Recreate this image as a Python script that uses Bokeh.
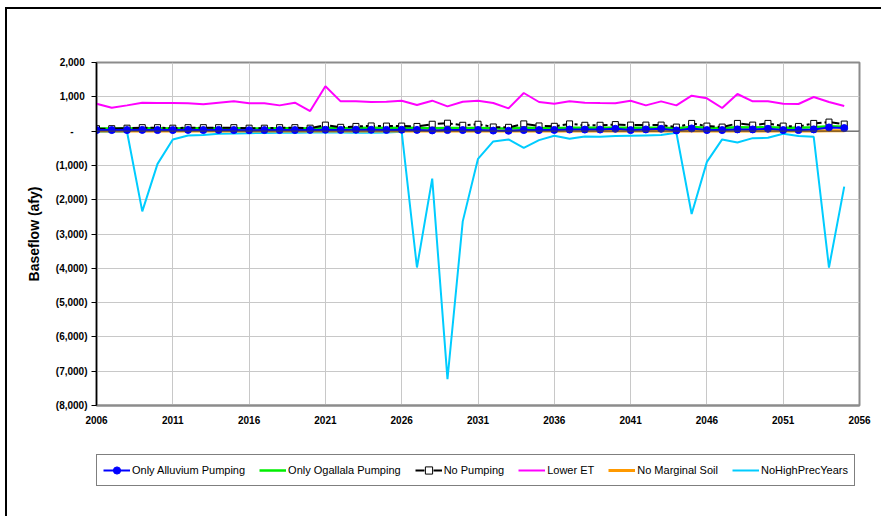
from bokeh.plotting import figure
from bokeh.layouts import column
from bokeh.models import (Range1d, FixedTicker, Legend, LegendItem, Span)
from bokeh.embed import file_html
from bokeh.resources import INLINE

years = list(range(2006, 2056))

only_alluvium = [30, 30, 30, 35, 30, 30, 35, 30, 35, 30, 25, 30, 30, 30, 35, 40, 35, 40, 40, 35,
                 40, 35, 20, 30, 30, 30, 15, 10, 30, 30, 35, 45, 45, 45, 68, 29, 49, 68, 19, 78,
                 29, 29, 49, 49, 68, 29, 29, 49, 107, 88]
only_ogallala = [75, 75, 75, 80, 80, 75, 80, 80, 80, 80, 75, 75, 80, 80, 75, 95, 85, 90, 95, 90,
                 95, 90, 85, 90, 90, 90, 80, 75, 95, 90, 85, 95, 95, 95, 100, 95, 95, 100, 80, 120,
                 100, 90, 110, 105, 110, 95, 95, 115, 140, 125]
no_pumping = [70, 70, 85, 100, 100, 85, 100, 100, 100, 100, 85, 85, 100, 100, 85, 175, 110, 136, 150, 146,
              146, 136, 200, 230, 170, 200, 120, 110, 210, 150, 140, 210, 170, 170, 190, 175, 175, 175, 117, 224,
              146, 117, 224, 175, 224, 146, 136, 224, 263, 205]
lower_et = [798, 681, 750, 828, 819, 819, 809, 780, 828, 867, 809, 809, 750, 828, 585, 1306, 867, 867, 850, 858,
            887, 760, 887, 721, 858, 887, 819, 663, 1111, 848, 799, 867, 828, 819, 815, 887, 750, 867, 750, 1033,
            955, 673, 1082, 867, 867, 799, 790, 994, 848, 731]
no_marginal_soil = [5, 5, 5, 0, 5, 5, 0, 5, 5, 5, 0, 5, 5, 5, 0, 10, 5, 5, 5, 5,
                    5, 5, 0, 0, 5, 5, 0, 0, 5, 5, 5, 5, 5, 5, 5, 5, 5, 5, 0, 10,
                    5, 0, 5, 5, 5, 0, 0, 5, 10, 10]
no_high_prec = [-20, -20, -20, -2339, -956, -243, -126, -117, -78, -70, -60, -55, -50, -45, -40, -40, -40, -45, -49, -39,
                -20, -3977, -1384, -7232, -2632, -809, -302, -243, -487, -263, -136, -224, -156, -166, -146, -136, -127, -117, -49, -2417,
                -897, -243, -331, -205, -195, -78, -146, -166, -3977, -1618]

series_names = ["Only Alluvium Pumping", "Only Ogallala Pumping", "No Pumping",
                "Lower ET", "No Marginal Soil", "NoHighPrecYears"]
series_values = [only_alluvium, only_ogallala, no_pumping, lower_et, no_marginal_soil, no_high_prec]

x_ticks = [2006, 2011, 2016, 2021, 2026, 2031, 2036, 2041, 2046, 2051, 2056]
y_ticks = [2000, 1000, 0, -1000, -2000, -3000, -4000, -5000, -6000, -7000, -8000]
nb = "\u00a0"
y_labels = ["2,000" + nb, "1,000" + nb, "-" + nb * 5, "(1,000)", "(2,000)", "(3,000)", "(4,000)",
            "(5,000)", "(6,000)", "(7,000)", "(8,000)"]

FONT = "Liberation Sans"

p = figure(width=874, height=431, output_backend="svg", toolbar_location=None,
           x_range=Range1d(2006, 2056), y_range=Range1d(-8000, 2000),
           min_border_left=89, min_border_top=53, min_border_right=22, min_border_bottom=35)

p.outline_line_color = "#8c8c8c"
p.outline_line_width = 2

# grids
p.xgrid.ticker = FixedTicker(ticks=x_ticks)
p.ygrid.ticker = FixedTicker(ticks=y_ticks)
p.xgrid.grid_line_color = "#c8c8c8"
p.ygrid.grid_line_color = "#c8c8c8"
p.xgrid.grid_line_width = 1
p.ygrid.grid_line_width = 1

# x axis
p.xaxis.ticker = FixedTicker(ticks=x_ticks)
p.xaxis.axis_line_color = "#8c8c8c"
p.xaxis.axis_line_width = 2
p.xaxis.major_tick_out = 0
p.xaxis.major_tick_in = 0
p.xaxis.minor_tick_line_color = None
p.xaxis.major_label_standoff = 10
p.xaxis.major_label_text_font = FONT
p.xaxis.major_label_text_font_style = "bold"
p.xaxis.major_label_text_font_size = "10px"
p.xaxis.major_label_text_color = "black"
p.xaxis.major_label_overrides = {t: str(t) for t in x_ticks}

# y axis
p.yaxis.ticker = FixedTicker(ticks=y_ticks)
p.yaxis.major_label_overrides = dict(zip(y_ticks, y_labels))
p.yaxis.axis_line_color = "black"
p.yaxis.axis_line_width = 1.5
p.yaxis.major_tick_out = 5
p.yaxis.major_tick_in = 0
p.yaxis.major_tick_line_color = "black"
p.yaxis.minor_tick_line_color = None
p.yaxis.major_label_standoff = 4
p.yaxis.major_label_text_font = FONT
p.yaxis.major_label_text_font_style = "bold"
p.yaxis.major_label_text_font_size = "10px"
p.yaxis.major_label_text_color = "black"
p.yaxis.axis_label = "Baseflow (afy)"
p.yaxis.axis_label_text_font = FONT
p.yaxis.axis_label_text_font_style = "bold"
p.yaxis.axis_label_text_font_size = "14px"
p.yaxis.axis_label_text_color = "black"
p.yaxis.axis_label_standoff = 11

# zero axis line
p.add_layout(Span(location=0, dimension="width", line_color="#404040", line_width=1))

# styles per series
line_styles = {
    "Only Alluvium Pumping": dict(line_color="#0000ff", line_width=2),
    "Only Ogallala Pumping": dict(line_color="#00ee00", line_width=2.5),
    "No Pumping": dict(line_color="black", line_width=2, line_dash="9 3 3 3"),
    "Lower ET": dict(line_color="#ff00ff", line_width=2),
    "No Marginal Soil": dict(line_color="#ff9900", line_width=3),
    "NoHighPrecYears": dict(line_color="#00ccff", line_width=2),
}
sq_style = dict(marker="square", size=6, fill_color="white", line_color="black", line_width=1)
dot_style = dict(marker="circle", size=7, fill_color="#0000ff", line_color="#0000ff")

# series
p.line(years, no_high_prec, **line_styles["NoHighPrecYears"])
p.line(years, no_marginal_soil, **line_styles["No Marginal Soil"])
p.line(years, lower_et, **line_styles["Lower ET"])
p.line(years, only_ogallala, **line_styles["Only Ogallala Pumping"])
p.line(years, no_pumping, **line_styles["No Pumping"])
p.line(years, only_alluvium, **line_styles["Only Alluvium Pumping"])
p.scatter(years, no_pumping, **sq_style)
p.scatter(years, only_alluvium, **dot_style)

# legend strip (separate figure under the chart; its series lie outside its view)
p2 = figure(width=874, height=76, output_backend="svg", toolbar_location=None,
            x_range=Range1d(0, 1), y_range=Range1d(0, 1),
            x_axis_type=None, y_axis_type=None,
            min_border_left=0, min_border_right=0, min_border_top=0, min_border_bottom=0)
p2.outline_line_color = None
p2.grid.visible = False

items = []
for name, vals in zip(series_names, series_values):
    rs = [p2.line(years, vals, **line_styles[name])]
    if name == "Only Alluvium Pumping":
        rs.append(p2.scatter(years, vals, **dot_style))
    if name == "No Pumping":
        rs.append(p2.scatter(years, vals, **sq_style))
    items.append(LegendItem(label=name, renderers=rs))

legend = Legend(items=items, orientation="horizontal", location=(0, 30))
legend.label_text_font = FONT
legend.label_text_font_size = "11px"
legend.label_text_color = "black"
legend.border_line_color = "black"
legend.border_line_width = 1
legend.background_fill_color = "white"
legend.background_fill_alpha = 1
legend.padding = 6
legend.spacing = 14
legend.margin = 0
legend.glyph_width = 27
legend.glyph_height = 18
legend.label_height = 18
legend.label_standoff = 2
p2.add_layout(legend)

layout = column(p, p2, spacing=0,
                styles={"margin-left": "5px", "margin-top": "7px",
                        "border-left": "2px solid black", "border-top": "2px solid black"})

open("out.html", "w").write(file_html(layout, INLINE))
